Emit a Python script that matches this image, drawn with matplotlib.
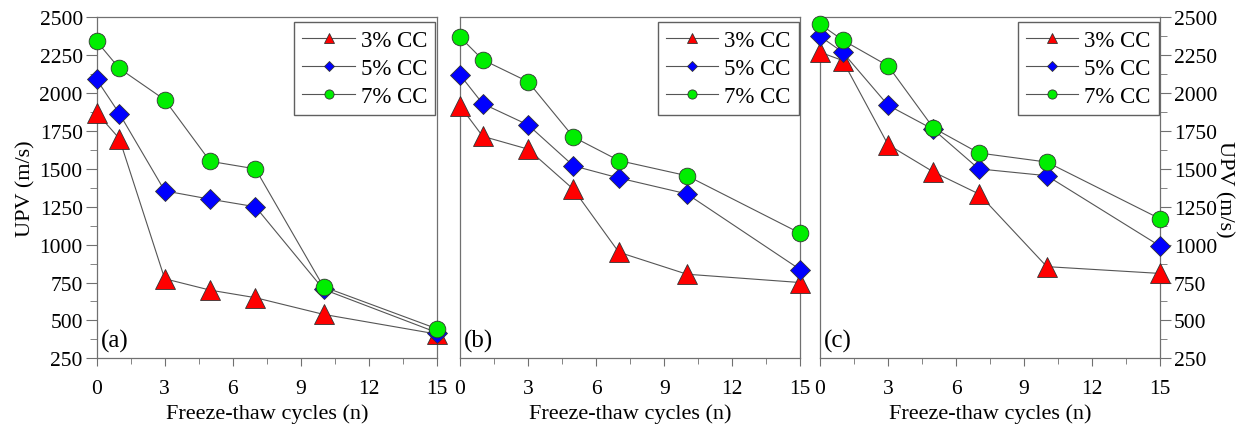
import matplotlib
matplotlib.use('Agg')
import matplotlib.pyplot as plt
from matplotlib.ticker import MultipleLocator

plt.rcParams['font.family'] = ['Liberation Serif', 'DejaVu Serif']
plt.rcParams['mathtext.fontset'] = 'stix'

# freeze-thaw cycles
cycles = [0, 1, 3, 5, 7, 10, 15]
labels = ['3% CC', '5% CC', '7% CC']
panel_names = ['(a)', '(b)', '(c)']

# UPV (m/s)
upv_a_3 = [1870, 1700, 775, 700, 650, 540, 410]
upv_a_5 = [2090, 1865, 1355, 1300, 1250, 705, 420]
upv_a_7 = [2342, 2163, 1956, 1550, 1500, 722, 445]

upv_b_3 = [1915, 1715, 1630, 1365, 950, 805, 750]
upv_b_5 = [2120, 1930, 1790, 1520, 1440, 1335, 835]
upv_b_7 = [2370, 2220, 2075, 1710, 1555, 1455, 1075]

upv_c_3 = [2270, 2215, 1660, 1480, 1335, 855, 810]
upv_c_5 = [2375, 2270, 1920, 1760, 1500, 1455, 990]
upv_c_7 = [2455, 2350, 2180, 1770, 1605, 1545, 1170]

panels = [[upv_a_3, upv_a_5, upv_a_7],
          [upv_b_3, upv_b_5, upv_b_7],
          [upv_c_3, upv_c_5, upv_c_7]]

styles = [dict(marker='^', color='red', ms=14),
          dict(marker='D', color='blue', ms=10),
          dict(marker='o', color='#00ee00', ms=12)]

fig = plt.figure(figsize=(12.36, 4.27), dpi=100)
lefts = [0.0782, 0.3722, 0.6634]
w = 0.2753
spine_c = '#707070'
fs = 15.5

for i, data in enumerate(panels):
    ax = fig.add_axes([lefts[i], 0.1585, w, 0.7986])
    for j, y in enumerate(data):
        st = styles[j]
        ax.plot(cycles, y, color='#555555', lw=0.8, marker=st['marker'],
                ms=st['ms'], mfc=st['color'], mec='#333333', mew=0.6,
                label=labels[j], clip_on=False, zorder=3 + j)
    ax.set_xlim(0, 15)
    ax.set_ylim(250, 2500)
    ax.xaxis.set_major_locator(MultipleLocator(3))
    ax.xaxis.set_minor_locator(MultipleLocator(1.5))
    ax.yaxis.set_major_locator(MultipleLocator(250))
    ax.yaxis.set_minor_locator(MultipleLocator(125))
    for s in ax.spines.values():
        s.set_color(spine_c)
        s.set_linewidth(0.9)
    ax.tick_params(axis='x', which='major', direction='out', length=6,
                   color=spine_c, labelsize=fs, pad=9)
    ax.tick_params(axis='x', which='minor', direction='out', length=4,
                   color=spine_c)
    ax.set_xlabel('Freeze-thaw cycles (n)', fontsize=16, labelpad=4)
    if i == 0:
        ax.tick_params(axis='y', which='major', length=8, color=spine_c,
                       labelsize=fs, pad=2)
        ax.tick_params(axis='y', which='minor', length=5, color=spine_c)
        ax.set_ylabel('UPV (m/s)', fontsize=16, labelpad=3)
    elif i == 1:
        ax.tick_params(axis='y', which='both', left=False, labelleft=False)
    else:
        ax.yaxis.tick_right()
        ax.tick_params(axis='y', which='major', length=8, color=spine_c,
                       labelsize=fs, pad=2)
        ax.tick_params(axis='y', which='minor', length=5, color=spine_c)
        ax.yaxis.set_label_position('right')
        ax.set_ylabel('UPV (m/s)', fontsize=16, rotation=270, labelpad=12)
    ax.text(0.012, 0.02, panel_names[i], transform=ax.transAxes,
            fontsize=18, ha='left', va='bottom')
    leg = ax.legend(loc='upper right', fontsize=16.5, markerscale=0.55,
                    handlelength=2.3, handletextpad=0.25, labelspacing=0.3,
                    borderpad=0.35, fancybox=False, framealpha=1,
                    bbox_to_anchor=(0.995, 0.985), borderaxespad=0.0)
    leg.get_frame().set_edgecolor('#606060')
    leg.get_frame().set_linewidth(1.0)

fig.savefig('out.png', dpi=100)
